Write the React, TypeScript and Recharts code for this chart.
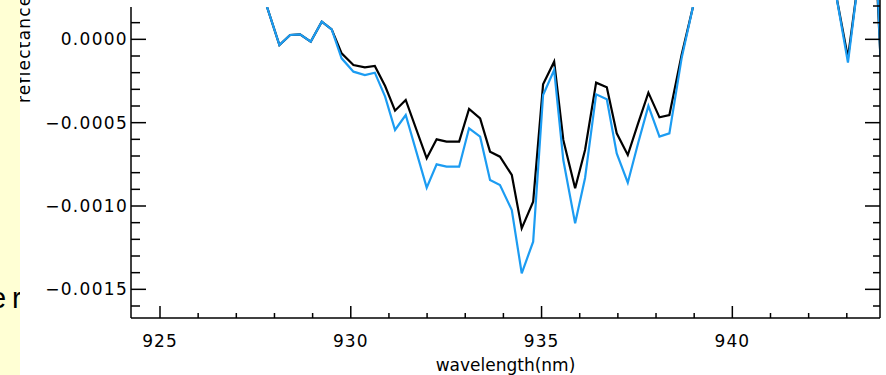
import { LineChart, Line, XAxis, YAxis } from "recharts";

// wavelength samples (nm)
const wavelengths = [
  927.74, 928.13, 928.41, 928.67, 928.95, 929.24, 929.5, 929.76, 930.07, 930.37,
  930.63, 930.9, 931.16, 931.44, 931.99, 932.25, 932.51, 932.84, 933.1, 933.39,
  933.65, 933.91, 934.22, 934.48, 934.78, 935.04, 935.33, 935.57, 935.88, 936.14,
  936.43, 936.71, 936.97, 937.26, 937.53, 937.8, 938.09, 938.35, 938.67, 938.96,
  939.23, 942.72, 943.03, 943.31, 943.59, 943.88,
];

// reflectance, black trace
const blackValues = [
  0.00024, -0.000034, 0.000026, 0.00003, -0.000014, 0.000106, 0.00006, -0.000084, -0.000154, -0.000168,
  -0.00016, -0.00028, -0.000428, -0.000364, -0.000714, -0.0006, -0.000614, -0.000614, -0.000418, -0.000474,
  -0.000674, -0.000704, -0.000814, -0.001134, -0.000974, -0.00027, -0.000134, -0.000604, -0.000894, -0.000664,
  -0.00026, -0.000288, -0.000564, -0.000694, -0.000504, -0.00032, -0.000468, -0.000454, -0.000094, 0.000186,
  0.00046, 0.000266, -0.00011, 0.00037, 0.0013, -0.0001,
];

// reflectance, blue trace
const blueValues = [
  0.00024, -0.000034, 0.000026, 0.00003, -0.000014, 0.000106, 0.00006, -0.000114, -0.000194, -0.000214,
  -0.0002, -0.000344, -0.000544, -0.000454, -0.00089, -0.00075, -0.000764, -0.000764, -0.000534, -0.000584,
  -0.000844, -0.000874, -0.001024, -0.001404, -0.001214, -0.000334, -0.000184, -0.000724, -0.001104, -0.000832,
  -0.00033, -0.00036, -0.000684, -0.00086, -0.000624, -0.0004, -0.000584, -0.000564, -0.000114, 0.000186,
  0.00046, 0.000266, -0.00014, 0.00037, 0.0015, -0.0001,
];

const xTicks = [925, 926, 927, 928, 929, 930, 931, 932, 933, 934, 935, 936, 937, 938, 939, 940, 941, 942, 943];
const yTicks = [
  -0.0016, -0.0015, -0.0014, -0.0013, -0.0012, -0.0011, -0.001, -0.0009, -0.0008, -0.0007,
  -0.0006, -0.0005, -0.0004, -0.0003, -0.0002, -0.0001, 0, 0.0001, 0.0002, 0.0003,
];

const rows = wavelengths.map((wl, i) => ({ wl, black: blackValues[i], blue: blueValues[i] }));

const FONT = '"DejaVu Sans", sans-serif';
const SLIDE_FONT = '"Liberation Sans", Arial, sans-serif';

const isMajorY = (v: number) => Math.round(v * 10000) % 5 === 0;

function XTick(props: any) {
  const { x, y, payload } = props;
  const v = payload.value;
  const major = v % 5 === 0;
  return (
    <g>
      <line x1={x} x2={x} y1={y} y2={y - (major ? 12 : 5)} stroke="#000" strokeWidth={1.5} />
      {major && (
        <text x={x} y={y + 29} textAnchor="middle" fontFamily={FONT} fontSize={17} letterSpacing={1} fill="#000">
          {v}
        </text>
      )}
    </g>
  );
}

function LeftTick(props: any) {
  const { x, y, payload } = props;
  const v = payload.value;
  const major = isMajorY(v);
  const label = v === 0 ? "0.0000" : (v < 0 ? "\u2212" : "") + Math.abs(v).toFixed(4);
  return (
    <g>
      <line x1={x} x2={x + (major ? 15 : 9)} y1={y} y2={y} stroke="#000" strokeWidth={1.5} />
      {major && (
        <text x={x - 3} y={y + 6} textAnchor="end" fontFamily={FONT} fontSize={17} letterSpacing={1.3} fill="#000">
          {label}
        </text>
      )}
    </g>
  );
}

function RightTick(props: any) {
  const { x, y, payload } = props;
  const major = isMajorY(payload.value);
  return <line x1={x} x2={x - (major ? 15 : 7)} y1={y} y2={y} stroke="#000" strokeWidth={1.5} />;
}

export default function App() {
  return (
    <div style={{ position: "absolute", left: 0, top: 0, width: 886, height: 375, overflow: "hidden", background: "#fff" }}>
      <div style={{ position: "absolute", left: 0, top: -20 }}>
        <LineChart width={886} height={395} data={rows} margin={{ top: 0, right: 0, bottom: 0, left: 0 }}>
          <XAxis
            dataKey="wl"
            type="number"
            domain={[924.24, 943.87]}
            ticks={xTicks}
            interval={0}
            allowDataOverflow
            height={57}
            tickSize={0}
            tickMargin={0}
            tickLine={false}
            tick={<XTick />}
            axisLine={{ stroke: "#000", strokeWidth: 1.5 }}
            label={{ value: "wavelength(nm)", position: "insideBottom", offset: 4, fill: "#000", fontSize: 17, fontFamily: FONT }}
          />
          <YAxis
            yAxisId="left"
            type="number"
            domain={[-0.001672, 0.000356]}
            ticks={yTicks}
            interval={0}
            allowDataOverflow
            width={131}
            tickSize={0}
            tickMargin={0}
            tickLine={false}
            tick={<LeftTick />}
            axisLine={{ stroke: "#000", strokeWidth: 1.5 }}
          />
          <YAxis
            yAxisId="right"
            orientation="right"
            type="number"
            domain={[-0.001672, 0.000356]}
            ticks={yTicks}
            interval={0}
            allowDataOverflow
            width={6}
            tickSize={0}
            tickMargin={0}
            tickLine={false}
            tick={<RightTick />}
            axisLine={{ stroke: "#000", strokeWidth: 1.5 }}
          />
          <Line yAxisId="left" type="linear" dataKey="black" stroke="#000" strokeWidth={2.2} dot={false} isAnimationActive={false} />
          <Line yAxisId="left" type="linear" dataKey="blue" stroke="#1C9CF2" strokeWidth={2.2} dot={false} isAnimationActive={false} />
        </LineChart>
      </div>
      <svg width={886} height={375} style={{ position: "absolute", left: 0, top: 0, pointerEvents: "none" }}>
        {/* title box along the top edge */}
        <rect x={125} y={0} width={640} height={7} fill="#fff" />
        <text transform="translate(29.7,103) rotate(-90)" fontFamily={FONT} fontSize={17} letterSpacing={1.2} fill="#000">
          reflectance
        </text>
        <svg x={0} y={0} width={20} height={375}>
          <rect x={0} y={0} width={20} height={375} fill="#FFFFD4" />
          <text y={308} fontFamily={SLIDE_FONT} fontSize={29} fill="#000">
            <tspan x={-10}>e</tspan>
            <tspan x={12}>r</tspan>
          </text>
        </svg>
      </svg>
    </div>
  );
}
